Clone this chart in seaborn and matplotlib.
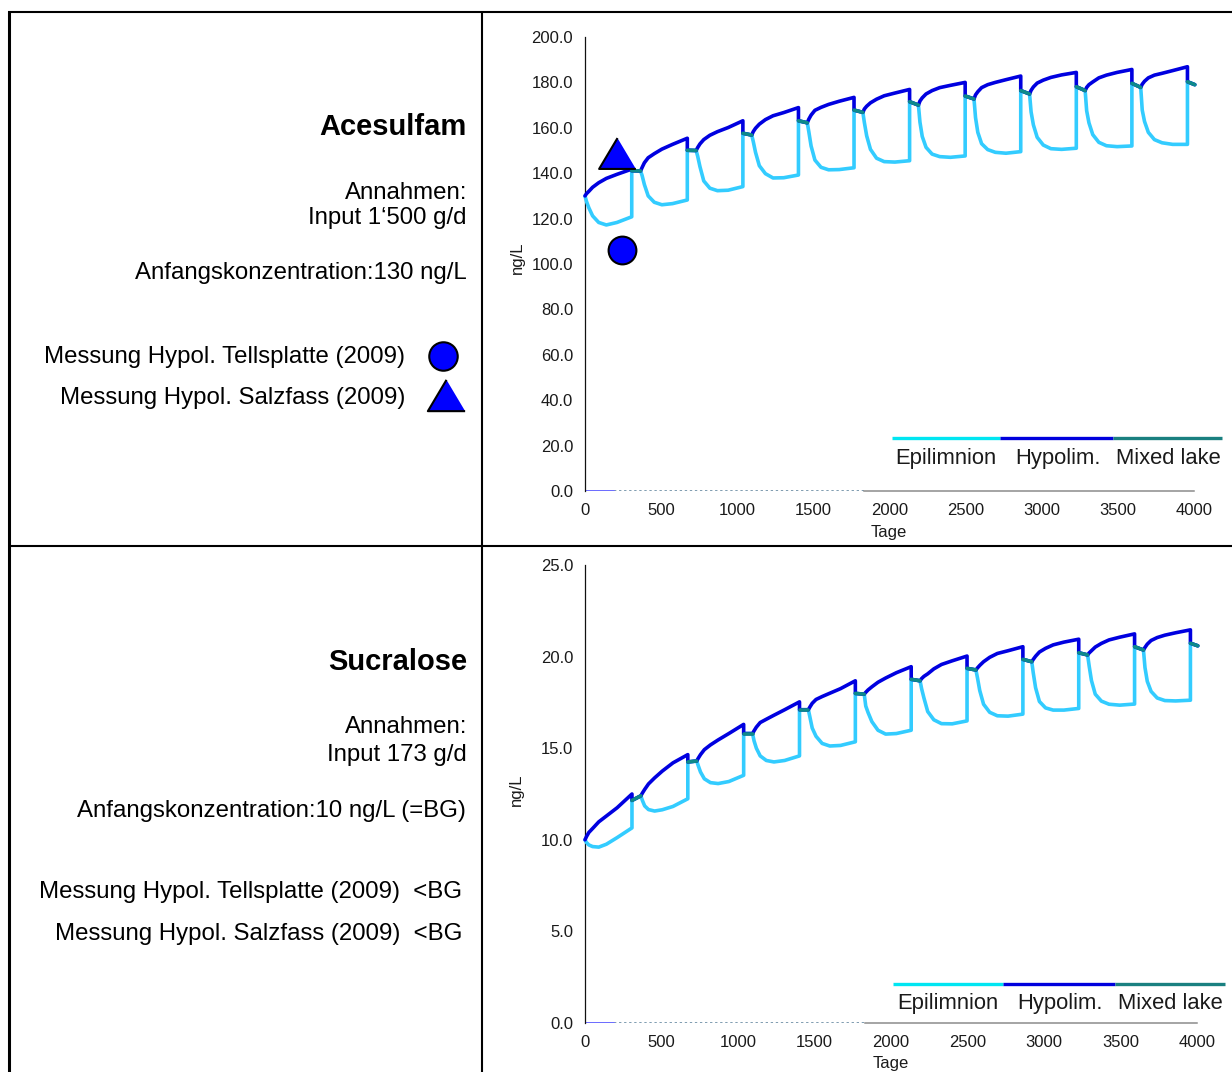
import matplotlib
matplotlib.use("Agg")
import matplotlib.pyplot as plt
import pandas as pd
import seaborn as sns

# ---------------- data ----------------
cycle_start = [0, 365, 730, 1095, 1460, 1825, 2190, 2555, 2920, 3285, 3650]
strat_offset = [0, 10, 25, 50, 90, 140, 210, 307]
mix_start = [307, 672, 1037, 1402, 1767, 2132, 2497, 2862, 3227, 3592, 3957]
mix_end = [365, 730, 1095, 1460, 1825, 2190, 2555, 2920, 3285, 3650, 4005]

# Acesulfam (ng/L)
ace_epi = [
    [130.0, 127.5, 124.8, 121.2, 118.3, 117.2, 118.3, 120.8],
    [141.0, 139.0, 135.0, 130.0, 127.2, 126.1, 126.6, 128.2],
    [150.0, 147.5, 142.9, 136.6, 133.4, 132.3, 132.5, 134.1],
    [156.8, 154.0, 149.2, 143.3, 139.8, 137.9, 138.0, 139.2],
    [162.2, 158.3, 152.0, 145.8, 142.6, 141.5, 141.6, 142.4],
    [166.8, 162.3, 156.5, 150.5, 146.6, 145.1, 144.9, 145.5],
    [170.0, 162.5, 156.2, 151.4, 148.4, 147.3, 147.0, 147.6],
    [172.7, 164.5, 158.0, 153.0, 150.4, 149.2, 148.8, 149.5],
    [174.9, 167.0, 161.3, 155.8, 152.4, 150.8, 150.5, 151.0],
    [176.4, 167.5, 162.2, 157.0, 153.6, 152.1, 151.7, 152.0],
    [177.8, 167.8, 162.8, 158.0, 154.8, 153.4, 152.7, 152.7],
]
ace_hyp = [
    [130.0, 131.0, 132.0, 133.8, 135.8, 137.7, 139.5, 141.8],
    [141.0, 142.5, 144.6, 146.8, 148.6, 150.6, 152.7, 155.4],
    [150.0, 151.3, 152.9, 154.8, 156.7, 158.3, 160.1, 163.1],
    [156.8, 158.3, 159.8, 161.6, 163.6, 165.3, 166.7, 168.9],
    [162.2, 163.8, 165.6, 167.7, 169.0, 170.3, 171.7, 173.4],
    [166.8, 168.3, 169.5, 171.0, 172.6, 174.1, 175.3, 176.9],
    [170.0, 171.8, 173.2, 174.9, 176.4, 177.7, 178.7, 180.0],
    [172.7, 174.5, 175.9, 177.7, 179.0, 180.0, 181.2, 182.8],
    [174.9, 176.5, 178.0, 179.7, 181.0, 182.2, 183.3, 184.4],
    [176.4, 177.8, 179.0, 180.2, 182.0, 183.2, 184.4, 185.7],
    [177.8, 179.2, 180.5, 182.0, 183.2, 184.0, 185.2, 186.9],
]
ace_mix = [
    [141.1, 141.0], [150.1, 150.0], [157.6, 156.8], [163.1, 162.2],
    [167.8, 166.8], [171.5, 170.0], [174.0, 172.7], [176.4, 174.9],
    [178.1, 176.4], [179.6, 177.8], [180.3, 179.0],
]

# Sucralose (ng/L)
suc_epi = [
    [10.00, 9.85, 9.72, 9.63, 9.60, 9.76, 10.12, 10.65],
    [12.40, 12.15, 11.85, 11.65, 11.57, 11.64, 11.82, 12.24],
    [14.30, 14.05, 13.70, 13.33, 13.12, 13.07, 13.18, 13.52],
    [15.80, 15.40, 15.00, 14.58, 14.33, 14.25, 14.33, 14.58],
    [17.10, 16.70, 16.10, 15.65, 15.26, 15.12, 15.15, 15.35],
    [17.95, 17.30, 16.95, 16.45, 15.98, 15.77, 15.80, 15.98],
    [18.68, 18.25, 17.75, 17.00, 16.55, 16.34, 16.33, 16.49],
    [19.27, 18.85, 18.15, 17.40, 16.96, 16.77, 16.75, 16.86],
    [19.72, 19.10, 18.30, 17.55, 17.20, 17.08, 17.08, 17.17],
    [20.09, 19.50, 18.70, 17.95, 17.57, 17.40, 17.35, 17.41],
    [20.36, 19.40, 18.65, 18.10, 17.74, 17.60, 17.58, 17.62],
]
suc_hyp = [
    [10.00, 10.18, 10.40, 10.62, 10.98, 11.30, 11.75, 12.50],
    [12.40, 12.55, 12.75, 13.05, 13.38, 13.75, 14.20, 14.65],
    [14.30, 14.45, 14.65, 14.92, 15.18, 15.45, 15.80, 16.30],
    [15.80, 15.95, 16.15, 16.40, 16.58, 16.80, 17.10, 17.53],
    [17.10, 17.25, 17.45, 17.66, 17.82, 18.00, 18.25, 18.68],
    [17.95, 18.05, 18.18, 18.35, 18.60, 18.83, 19.12, 19.45],
    [18.68, 18.80, 18.92, 19.06, 19.33, 19.57, 19.77, 20.03],
    [19.27, 19.38, 19.52, 19.72, 19.96, 20.17, 20.32, 20.54],
    [19.72, 19.85, 20.02, 20.25, 20.45, 20.64, 20.79, 20.95],
    [20.09, 20.20, 20.32, 20.52, 20.72, 20.91, 21.06, 21.24],
    [20.36, 20.50, 20.68, 20.88, 21.04, 21.17, 21.30, 21.46],
]
suc_mix = [
    [12.15, 12.40], [14.25, 14.30], [15.80, 15.80], [17.10, 17.10],
    [17.99, 17.95], [18.76, 18.68], [19.36, 19.27], [19.85, 19.72],
    [20.21, 20.09], [20.54, 20.36], [20.73, 20.59],
]

# measurements (Acesulfam only)
ace_meas_day = [245, 210]
ace_meas_val = [106.0, 148.9]

x_ticks = [0, 500, 1000, 1500, 2000, 2500, 3000, 3500, 4000]
ace_y_ticks = [0, 20, 40, 60, 80, 100, 120, 140, 160, 180, 200]
suc_y_ticks = [0, 5, 10, 15, 20, 25]
legend_labels = ["Epilimnion", "Hypolim.", "Mixed lake"]

# ---------------- style ----------------
sns.set_style("white")
plt.rcParams["font.family"] = ["Liberation Sans", "DejaVu Sans"]

C_EPI = "#33CCFF"
C_HYP = "#0000E0"
C_MIX = "#0E8A8A"
L_EPI = "#00E6F2"
L_HYP = "#0000DD"
L_MIX = "#1A8080"
TXT = "#1a1a1a"

W, H = 1232, 1072
fig = plt.figure(figsize=(W / 100, H / 100), dpi=100)
fig.patch.set_facecolor("white")

# background "table" layer in pixel coordinates
bg = fig.add_axes([0, 0, 1, 1])
bg.set_xlim(0, W)
bg.set_ylim(H, 0)
bg.axis("off")
bg.plot([8, W], [12, 12], color="black", lw=1.5, solid_capstyle="butt")
bg.plot([9, 9], [11, H], color="black", lw=2.2, solid_capstyle="butt")
bg.plot([482, 482], [11, H], color="black", lw=1.5, solid_capstyle="butt")
bg.plot([8, W], [546, 546], color="black", lw=1.5, solid_capstyle="butt")


def series_frame(epi, hyp, mix):
    rows = []
    for name, vals in (("epi", epi), ("hyp", hyp)):
        for k, start in enumerate(cycle_start):
            for off, v in zip(strat_offset, vals[k]):
                rows.append((name, 0, start + off, v))
            rows.append((name, 0, mix_start[k], mix[k][0]))
            rows.append((name, 0, mix_end[k], mix[k][1]))
    for k in range(len(cycle_start)):
        rows.append(("mix", k, mix_start[k], mix[k][0]))
        rows.append(("mix", k, mix_end[k], mix[k][1]))
    return pd.DataFrame(rows, columns=["series", "unit", "day", "value"])


def draw_chart(ax, df, ymax, yticks):
    for name, color, z in (("epi", C_EPI, 3), ("hyp", C_HYP, 4), ("mix", C_MIX, 5)):
        sub = df[df["series"] == name]
        sns.lineplot(data=sub, x="day", y="value", units="unit", estimator=None,
                     sort=False, color=color, lw=2.6, ax=ax, zorder=z,
                     clip_on=False)
    ax.set_facecolor("none")
    ax.set_xlim(0, 4000)
    ax.set_ylim(0, ymax)
    ax.set_xticks(x_ticks)
    ax.set_xticklabels([str(t) for t in x_ticks])
    ax.set_yticks(yticks)
    ax.set_yticklabels([f"{t:.1f}" for t in yticks])
    for s in ("top", "right"):
        ax.spines[s].set_visible(False)
    ax.spines["left"].set_color("#111111")
    ax.spines["left"].set_linewidth(0.9)
    ax.spines["bottom"].set_bounds(1830, 4000)
    ax.spines["bottom"].set_color("#8c8c8c")
    ax.spines["bottom"].set_linewidth(1.1)
    ax.axhline(0, xmin=190 / 4000, xmax=1830 / 4000, color="#7f9cb0",
               lw=1.4, ls=(0, (1.2, 1.4)), zorder=2)
    ax.axhline(0, xmin=0, xmax=190 / 4000, color="#6a6aff", lw=1.4, zorder=2)
    ax.tick_params(axis="both", direction="inout", length=7, width=0.9,
                   labelsize=12, pad=5.0, colors="#222222", labelcolor=TXT)
    ax.set_xlabel("Tage", fontsize=12, color=TXT)
    ax.set_ylabel("ng/L", fontsize=12, color=TXT)


# ---------- top chart: Acesulfam ----------
ax1 = fig.add_axes([585 / W, (H - 491) / H, 609 / W, 454 / H])
draw_chart(ax1, series_frame(ace_epi, ace_hyp, ace_mix), 200, ace_y_ticks)
ax1.xaxis.set_label_coords(0.499, -0.075)
ax1.yaxis.set_label_coords(-0.099, 0.513)
tri = [(0, 0.84), (-1, -0.84), (1, -0.84)]
sns.scatterplot(x=ace_meas_day[:1], y=ace_meas_val[:1], marker="o", s=400,
                color="#0000FF", edgecolor="black", linewidth=1.5, ax=ax1,
                zorder=6, clip_on=False)
sns.scatterplot(x=ace_meas_day[1:], y=ace_meas_val[1:], marker=tri, s=700,
                color="#0000FF", edgecolor="black", linewidth=1.5, ax=ax1,
                zorder=6, clip_on=False)

# ---------- bottom chart: Sucralose ----------
ax2 = fig.add_axes([585 / W, (H - 1023) / H, 612 / W, 458 / H])
draw_chart(ax2, series_frame(suc_epi, suc_hyp, suc_mix), 25, suc_y_ticks)
ax2.xaxis.set_label_coords(0.499, -0.072)
ax2.yaxis.set_label_coords(-0.099, 0.509)

# ---------- in-chart legends ----------
def draw_legend(y_bar, x_edges, x_text, y_text):
    for (x0, x1), c in zip(zip(x_edges[:-1], x_edges[1:]), (L_EPI, L_HYP, L_MIX)):
        bg.plot([x0, x1], [y_bar, y_bar], color=c, lw=2.4, solid_capstyle="butt")
    for xt, lab in zip(x_text, legend_labels):
        bg.text(xt, y_text, lab, fontsize=15.8, color=TXT, ha="left", va="baseline")


draw_legend(438, [892, 1000, 1113, 1222], [895, 1015, 1116], 464)
draw_legend(984, [893, 1003, 1115, 1225], [897, 1017, 1118], 1009)

# ---------- left text cells ----------
def left_text(x, y, s, bold=False, size=17.3):
    bg.text(x, y, s, fontsize=size, fontweight="bold" if bold else "normal",
            color="black", ha="right", va="baseline")


left_text(467, 135, "Acesulfam", bold=True, size=21)
left_text(467, 199, "Annahmen:")
left_text(467, 224, "Input 1\u2018500 g/d")
left_text(467, 279, "Anfangskonzentration:130 ng/L")
left_text(405, 363, "Messung Hypol. Tellsplatte (2009)")
left_text(405, 404, "Messung Hypol. Salzfass (2009)")
bg.scatter([443.3], [355.7], marker="o", s=420, color="#0000FF",
           edgecolor="black", linewidth=1.5, zorder=5)
bg.scatter([446], [395], marker=tri, s=720, color="#0000FF",
           edgecolor="black", linewidth=1.5, zorder=5)

left_text(467, 670, "Sucralose", bold=True, size=21)
left_text(467, 733, "Annahmen:")
left_text(467, 761, "Input 173 g/d")
left_text(466, 817, "Anfangskonzentration:10 ng/L (=BG)")
left_text(462, 898, "Messung Hypol. Tellsplatte (2009)  <BG")
left_text(462, 940, "Messung Hypol. Salzfass (2009)  <BG")

fig.savefig("out.png", dpi=100)
